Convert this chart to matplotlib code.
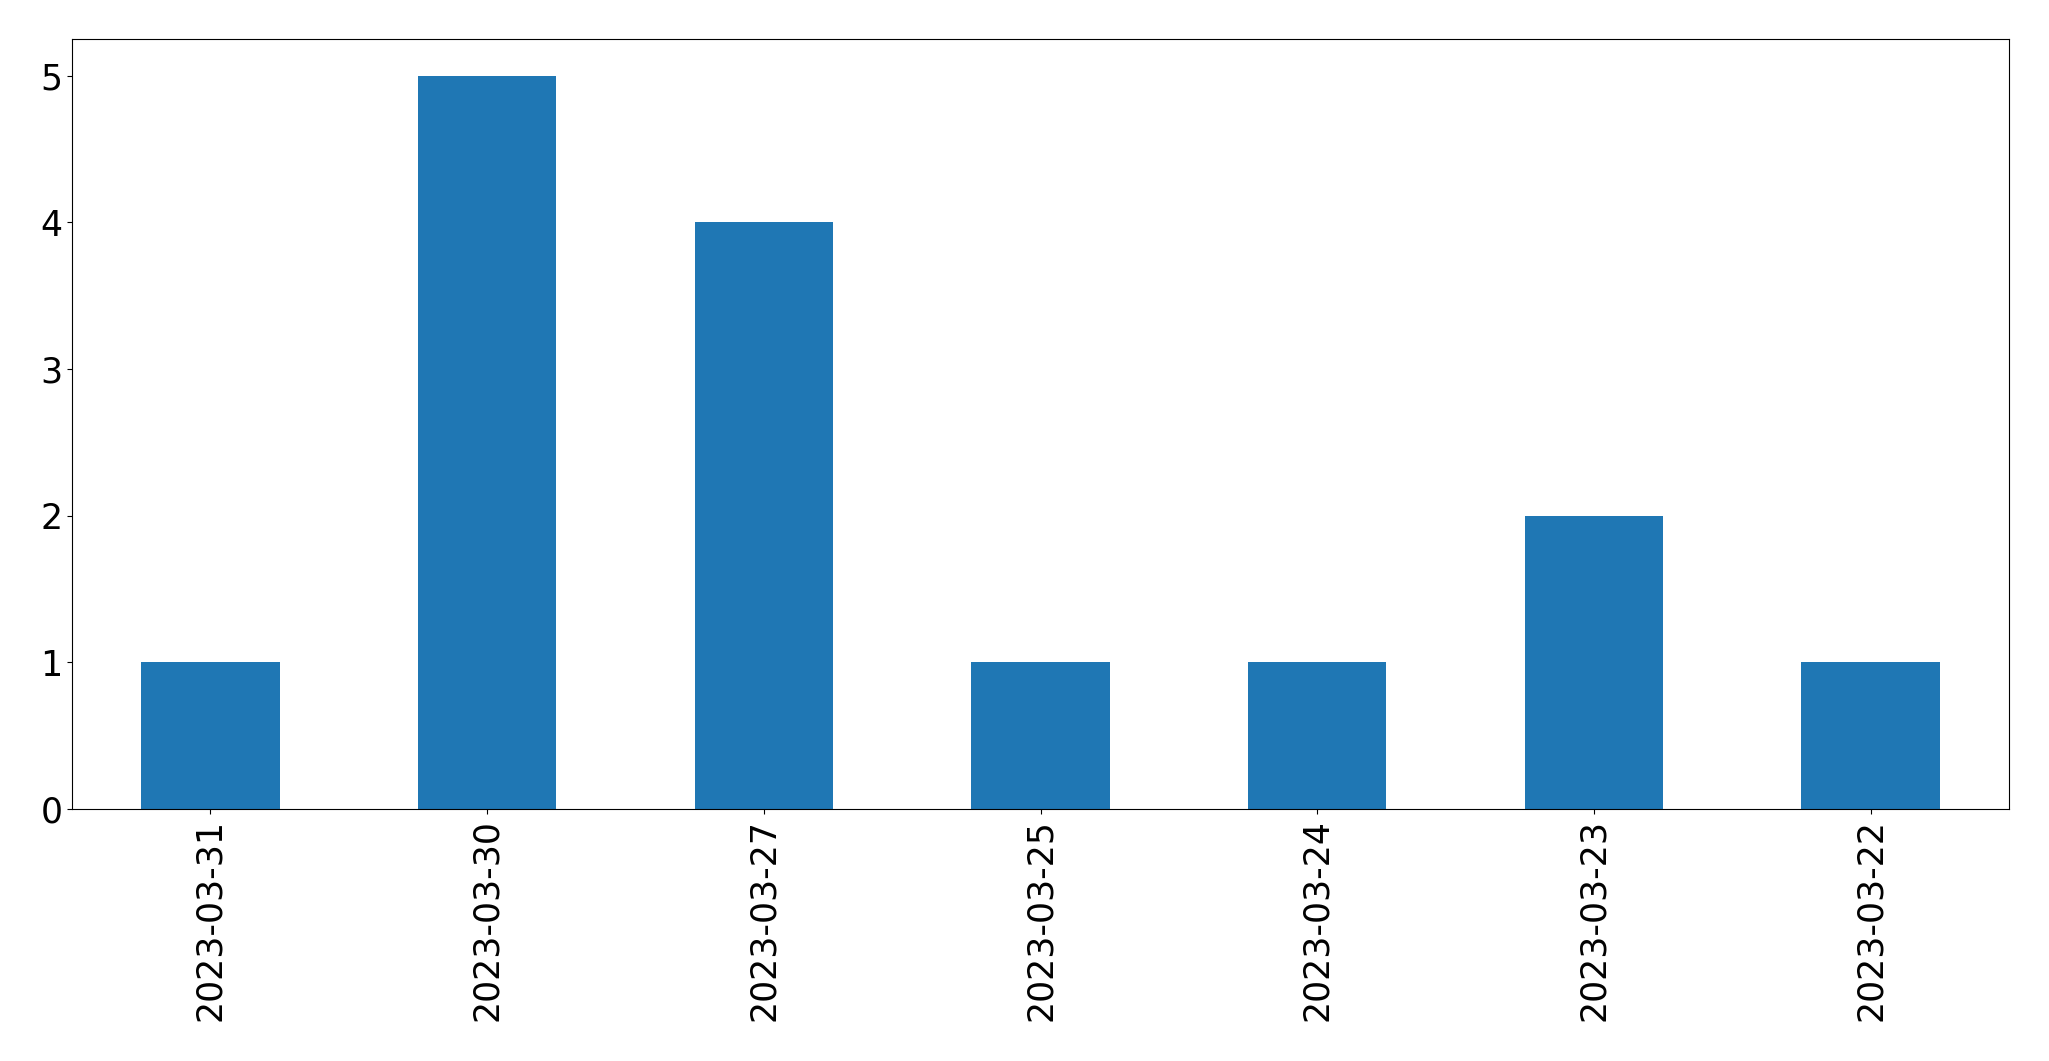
import matplotlib
matplotlib.use("Agg")
import matplotlib.pyplot as plt

dates = ["2023-03-31", "2023-03-30", "2023-03-27", "2023-03-25",
         "2023-03-24", "2023-03-23", "2023-03-22"]
counts = [1, 5, 4, 1, 1, 2, 1]

fig = plt.figure(figsize=(20.49, 10.61), dpi=100)
ax = fig.add_subplot(111)
fig.subplots_adjust(left=72/2049, right=2009/2049, top=1-39/1061, bottom=1-809/1061)

x = range(len(dates))
ax.bar(x, counts, width=0.5, color="#1f77b4")
ax.set_xlim(-0.5, len(dates) - 0.5)
ax.set_xticks(list(x))
ax.set_xticklabels(dates, rotation=90, fontsize=25)
ax.tick_params(axis="y", labelsize=25)
ax.set_yticks([0, 1, 2, 3, 4, 5])

fig.savefig("out.png", dpi=100)
